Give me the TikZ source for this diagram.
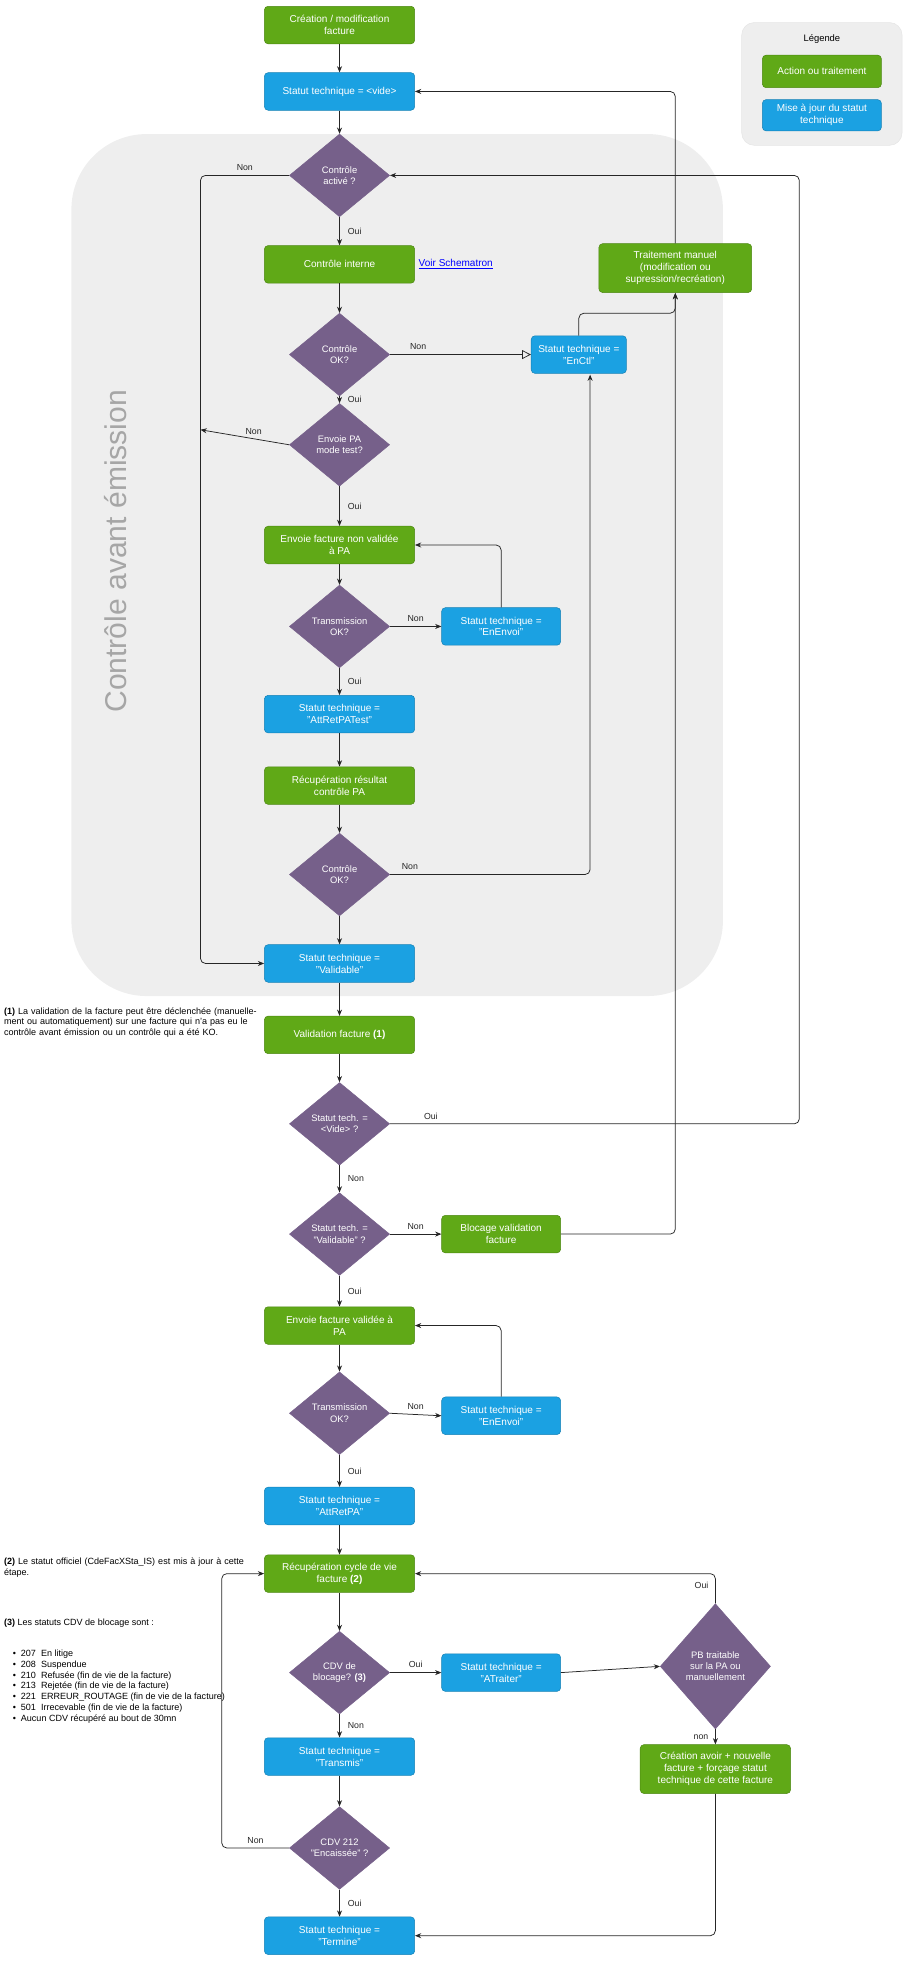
\documentclass[tikz,border=0pt]{standalone}
\usepackage{fontspec}
\setmainfont{Liberation Sans}
\usetikzlibrary{shapes.geometric,arrows.meta}
\definecolor{gr}{HTML}{60A917}
\definecolor{bl}{HTML}{1BA1E2}
\definecolor{pu}{HTML}{76608A}
\definecolor{bg}{HTML}{EEEEEE}
\begin{document}
\begin{tikzpicture}[x=1pt,y=-1pt,
 box/.style={rounded corners=3pt,text=white,minimum width=120pt,minimum height=30pt,align=center,font=\fontsize{8}{9.5}\selectfont,inner sep=1pt},
 act/.style={box,fill=gr,draw=gr!80!black},
 upd/.style={box,fill=bl,draw=bl!80!black},
 dec/.style={diamond,fill=pu,draw=pu,text=white,minimum width=80pt,minimum height=66pt,align=center,font=\fontsize{7.5}{9}\selectfont,inner sep=0pt},
 lab/.style={font=\fontsize{7}{8}\selectfont},
 ar/.style={-{Stealth[length=5pt,width=4pt]},black!85,line width=0.6pt,rounded corners=4pt},
 note/.style={font=\fontsize{7.2}{8.6}\selectfont,align=left,anchor=north west,inner sep=0pt}]
\useasboundingbox (0,0) rectangle (724,1566);
% grey region
\fill[bg,rounded corners=60pt] (57,107) rectangle (577,795);
\node[rotate=90,text=black!35,font=\fontsize{24}{24}\selectfont] (reg) at (92,440) {Contrôle avant émission};
% legend
\fill[bg,rounded corners=10pt,draw=black!10] (592,18) rectangle (720,116);
\node[font=\fontsize{7.5}{9}\selectfont] (leg) at (656,31) {Légende};
\node[act,minimum width=95pt,minimum height=26pt] (l1) at (656,57) {Action ou traitement};
\node[upd,minimum width=95pt,minimum height=25pt] (l2) at (656,92) {Mise à jour du statut\\technique};
% main column
\node[act] (c1) at (271,20) {Création / modification\\facture};
\node[upd] (vide) at (271,73) {Statut technique = <vide>};
\node[dec] (d1) at (271,140) {Contrôle\\activé ?};
\node[act] (ci) at (271,211) {Contrôle interne};
\node[anchor=west,text=blue,font=\fontsize{8}{9}\selectfont,inner sep=1pt] (vs) at (333,211) {\underline{Voir Schematron}};
\node[dec] (d2) at (271,283) {Contrôle\\OK?};
\node[upd,minimum width=76pt] (enctl) at (462,283) {Statut technique =\\"EnCtl"};
\node[act,minimum width=122pt,minimum height=39pt] (tm) at (539,214) {Traitement manuel\\(modification ou\\supression/recréation)};
\node[dec] (d3) at (271,355) {Envoie PA\\mode test?};
\node[act] (env1) at (271,435) {Envoie facture non validée\\à PA};
\node[dec] (d4) at (271,500) {Transmission\\OK?};
\node[upd,minimum width=95pt] (ee1) at (400,500) {Statut technique =\\"EnEnvoi"};
\node[upd] (att) at (271,570) {Statut technique =\\"AttRetPATest"};
\node[act] (rec) at (271,627) {Récupération résultat\\contrôle PA};
\node[dec] (d5) at (271,698) {Contrôle\\OK?};
\node[upd] (val) at (271,769) {Statut technique =\\"Validable"};
\node[act] (vf) at (271,826) {Validation facture \textbf{(1)}};
\node[dec] (d6) at (271,897) {Statut tech. =\\<Vide> ?};
\node[dec] (d7) at (271,985) {Statut tech. =\\"Validable" ?};
\node[act,minimum width=95pt] (blk) at (400,985) {Blocage validation\\facture};
\node[act] (env2) at (271,1058) {Envoie facture validée à\\PA};
\node[dec] (d8) at (271,1128) {Transmission\\OK?};
\node[upd,minimum width=95pt] (ee2) at (400,1130) {Statut technique =\\"EnEnvoi"};
\node[upd] (atr) at (271,1202) {Statut technique =\\"AttRetPA"};
\node[act] (cyc) at (271,1256) {Récupération cycle de vie\\facture \textbf{(2)}};
\node[dec] (d9) at (271,1335) {CDV de\\blocage? \textbf{(3)}};
\node[upd,minimum width=95pt] (atrt) at (400,1335) {Statut technique =\\"ATraiter"};
\node[dec,minimum width=88pt,minimum height=100pt] (pb) at (571,1330) {PB traitable\\sur la PA ou\\manuellement};
\node[act,minimum width=120pt,minimum height=39pt] (cav) at (571,1412) {Création avoir + nouvelle\\facture + forçage statut\\technique de cette facture};
\node[upd] (trm) at (271,1402) {Statut technique =\\"Transmis"};
\node[dec] (d10) at (271,1475) {CDV 212\\"Encaissée" ?};
\node[upd] (ter) at (271,1545) {Statut technique =\\"Termine"};
% vertical flow
\draw[ar] (c1) -- (vide);
\draw[ar] (vide) -- (d1);
\draw[ar] (d1) -- node[lab,right=3pt]{Oui} (ci);
\draw[ar] (ci) -- (d2);
\draw[ar] (d2) -- node[lab,right=3pt]{Oui} (d3);
\draw[ar] (d3) -- node[lab,right=3pt]{Oui} (env1);
\draw[ar] (env1) -- (d4);
\draw[ar] (d4) -- node[lab,right=3pt]{Oui} (att);
\draw[ar] (att) -- (rec);
\draw[ar] (rec) -- (d5);
\draw[ar] (d5) -- (val);
\draw[ar] (val) -- (vf);
\draw[ar] (vf) -- (d6);
\draw[ar] (d6) -- node[lab,right=3pt]{Non} (d7);
\draw[ar] (d7) -- node[lab,right=3pt]{Oui} (env2);
\draw[ar] (env2) -- (d8);
\draw[ar] (d8) -- node[lab,right=3pt]{Oui} (atr);
\draw[ar] (atr) -- (cyc);
\draw[ar] (cyc) -- (d9);
\draw[ar] (d9) -- node[lab,right=3pt]{Non} (trm);
\draw[ar] (trm) -- (d10);
\draw[ar] (d10) -- node[lab,right=3pt]{Oui} (ter);
% side branches
\draw[ar,-{Triangle[open,length=7pt,width=7pt]}] (d2.east) -- node[lab,pos=0.2,above]{Non} (enctl.west);
\draw[ar] (enctl.north) |- (539,250) -- (tm.south);
\draw[ar] (tm.north) |- (vide.east);
\draw[ar] (d5.east) -- node[lab,pos=0.1,above]{Non} (471,698) -- (471,299);
\draw[ar] (d1.west) -- node[lab,pos=0.5,above]{Non} (160,140) |- (val.west);
\draw[ar] (d3.west) -- node[lab,pos=0.4,above]{Non} (160,343);
\draw[ar] (d4.east) -- node[lab,above]{Non} (ee1.west);
\draw[ar] (ee1.north) |- (env1.east);
\draw[ar] (d6.east) -- node[lab,pos=0.1,above]{Oui} (638,897) |- (d1.east);
\draw[ar] (d7.east) -- node[lab,above]{Non} (blk.west);
\draw[ar] (blk.east) -| (539,234);
\draw[ar] (d8.east) -- node[lab,above]{Non} (ee2.west);
\draw[ar] (ee2.north) |- (env2.east);
\draw[ar] (d9.east) -- node[lab,above]{Oui} (atrt.west);
\draw[ar] (atrt.east) -- (pb.west);
\draw[ar] (pb.north) |- node[lab,pos=0.3,left=2pt]{Oui} (cyc.east);
\draw[ar] (pb.south) -- node[lab,left=2pt]{non} (cav.north);
\draw[ar] (cav.south) |- (ter.east);
\draw[ar] (d10.west) -- node[lab,above]{Non} (177,1475) |- (cyc.west);
% notes
\node[note,text width=205pt] (n1) at (3,804) {\textbf{(1)} La validation de la facture peut être déclenchée (manuellement ou automatiquement) sur une facture qui n'a pas eu le contrôle avant émission ou un contrôle qui a été KO.};
\node[note,text width=205pt] (n2) at (3,1243) {\textbf{(2)} Le statut officiel (CdeFacXSta\_IS) est mis à jour à cette étape.};
\node[note] (n3) at (3,1292) {\textbf{(3)} Les statuts CDV de blocage sont :};
\node[note] (n4) at (10,1316) {\begin{tabular}{@{}l@{\ \ }l@{}}
\textbullet & 207\ \ En litige\\
\textbullet & 208\ \ Suspendue\\
\textbullet & 210\ \ Refusée (fin de vie de la facture)\\
\textbullet & 213\ \ Rejetée (fin de vie de la facture)\\
\textbullet & 221\ \ ERREUR\_ROUTAGE (fin de vie de la facture)\\
\textbullet & 501\ \ Irrecevable (fin de vie de la facture)\\
\textbullet & Aucun CDV récupéré au bout de 30mn
\end{tabular}};
\end{tikzpicture}
\end{document}
